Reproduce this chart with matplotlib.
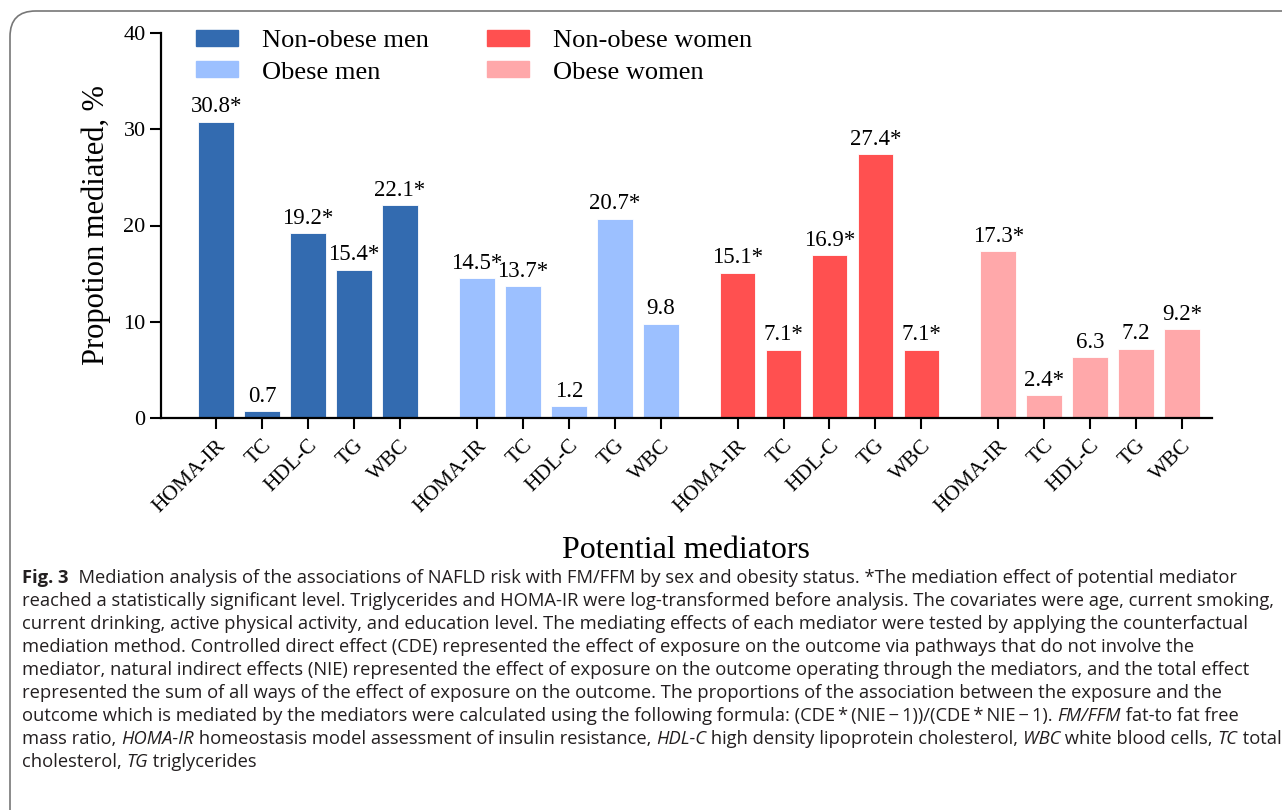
import matplotlib.pyplot as plt
from matplotlib.patches import FancyBboxPatch, Patch

groups = ["Non-obese men", "Obese men", "Non-obese women", "Obese women"]
mediators = ["HOMA-IR", "TC", "HDL-C", "TG", "WBC"]
non_obese_men = [30.8, 0.7, 19.2, 15.4, 22.1]
obese_men = [14.5, 13.7, 1.2, 20.7, 9.8]
non_obese_women = [15.1, 7.1, 16.9, 27.4, 7.1]
obese_women = [17.3, 2.4, 6.3, 7.2, 9.2]
signif_nom = [True, False, True, True, True]
signif_om = [True, True, False, True, False]
signif_nw = [True, True, True, True, True]
signif_ow = [True, True, False, False, True]
colors = ["#336BB0", "#9CC0FF", "#FF5050", "#FFA8AA"]

caption = [
    [("Fig. 3", "bold"), ("  Mediation analysis of the associations of NAFLD risk with FM/FFM by sex and obesity status. *The mediation effect of potential mediator", "normal")],
    [("reached a statistically significant level. Triglycerides and HOMA-IR were log-transformed before analysis. The covariates were age, current smoking,", "normal")],
    [("current drinking, active physical activity, and education level. The mediating effects of each mediator were tested by applying the counterfactual", "normal")],
    [("mediation method. Controlled direct effect (CDE) represented the effect of exposure on the outcome via pathways that do not involve the", "normal")],
    [("mediator, natural indirect effects (NIE) represented the effect of exposure on the outcome operating through the mediators, and the total effect", "normal")],
    [("represented the sum of all ways of the effect of exposure on the outcome. The proportions of the association between the exposure and the", "normal")],
    [("outcome which is mediated by the mediators were calculated using the following formula: (CDE\u2009*\u2009(NIE\u2009\u2212\u20091))/(CDE\u2009*\u2009NIE\u2009\u2212\u20091). ", "normal"), ("FM/FFM", "italic"), (" fat-to fat free", "normal")],
    [("mass ratio, ", "normal"), ("HOMA-IR", "italic"), (" homeostasis model assessment of insulin resistance, ", "normal"), ("HDL-C", "italic"), (" high density lipoprotein cholesterol, ", "normal"), ("WBC", "italic"), (" white blood cells, ", "normal"), ("TC", "italic"), (" total", "normal")],
    [("cholesterol, ", "normal"), ("TG", "italic"), (" triglycerides", "normal")],
]

W, H = 1282, 810
fig = plt.figure(figsize=(W / 100, H / 100), dpi=100)
serif = "Liberation Serif"

# frame around figure + caption (runs off the right and bottom edges)
frame = FancyBboxPatch((10 / W, -0.05), 1.05, (1 - 11 / H) + 0.05, transform=fig.transFigure,
                       boxstyle="round,pad=0,rounding_size=0.02", fc="none",
                       ec="#777777", lw=1.2, mutation_aspect=W / H)
fig.patches.append(frame)

ax = fig.add_axes([161 / W, 1 - 418 / H, (1212 - 161) / W, (418 - 33) / H])

series = [non_obese_men, obese_men, non_obese_women, obese_women]
signif = [signif_nom, signif_om, signif_nw, signif_ow]
step = 5.67
ticks, labels = [], []
for g, vals in enumerate(series):
    xs = [g * step + i for i in range(len(vals))]
    ax.bar(xs, vals, width=0.78, color=colors[g], edgecolor="white", linewidth=0.6, label=groups[g])
    for x, v, s in zip(xs, vals, signif[g]):
        ax.text(x, v + 0.45, f"{v}" + ("*" if s else ""), ha="center", va="bottom",
                family=serif, fontsize=16.5)
    ticks += xs
    labels += mediators

ax.set_xlim(-1.2, 3 * step + 4 + 0.65)
ax.set_ylim(0, 40)
ax.set_yticks([0, 10, 20, 30, 40])
ax.set_xticks(ticks)
ax.set_xticklabels(labels, rotation=45, ha="right", va="top", rotation_mode="anchor",
                   family=serif, fontsize=15.5)
for t in ax.get_yticklabels():
    t.set_family(serif)
    t.set_fontsize(16)
ax.tick_params(axis="both", direction="out", width=1.5, length=8, pad=3)
ax.tick_params(axis="x", pad=5)
for sp in ["top", "right"]:
    ax.spines[sp].set_visible(False)
for sp in ["left", "bottom"]:
    ax.spines[sp].set_linewidth(1.6)

ax.set_ylabel("Propotion mediated, %", family=serif, fontsize=22, labelpad=9)
fig.text(686 / W, 1 - 550 / H, "Potential mediators", ha="center", va="center",
         family=serif, fontsize=23)

handles = [Patch(color=c) for c in colors]
fig.legend(handles, groups,
           ncol=2, loc="upper left", bbox_to_anchor=(172 / W, 1 - 6 / H), frameon=False,
           prop={"family": serif, "size": 19}, handlelength=1.6, handleheight=0.55,
           handletextpad=0.9, columnspacing=2.2, labelspacing=0.35)

# caption, drawn piece by piece so italics can sit inline
renderer = fig.canvas.get_renderer()
cap_font = "Open Sans"
cap_size = 13.2
bar_w = fig.text(0, 0, "|", family=cap_font, fontsize=cap_size)
bw = bar_w.get_window_extent(renderer).width
bar_w.remove()
for li, line in enumerate(caption):
    x = 22
    y = 1 - (578 + li * 23) / H
    for seg, style in line:
        kw = dict(family=cap_font, fontsize=cap_size, va="center", ha="left", color="#231F20")
        if style == "bold":
            kw["weight"] = "bold"
        elif style == "italic":
            kw["style"] = "italic"
        fig.text(x / W, y, seg, **kw)
        probe = fig.text(0, 0, seg + "|", **kw)
        x += probe.get_window_extent(renderer).width - bw
        probe.remove()

fig.savefig("out.png", dpi=100)
